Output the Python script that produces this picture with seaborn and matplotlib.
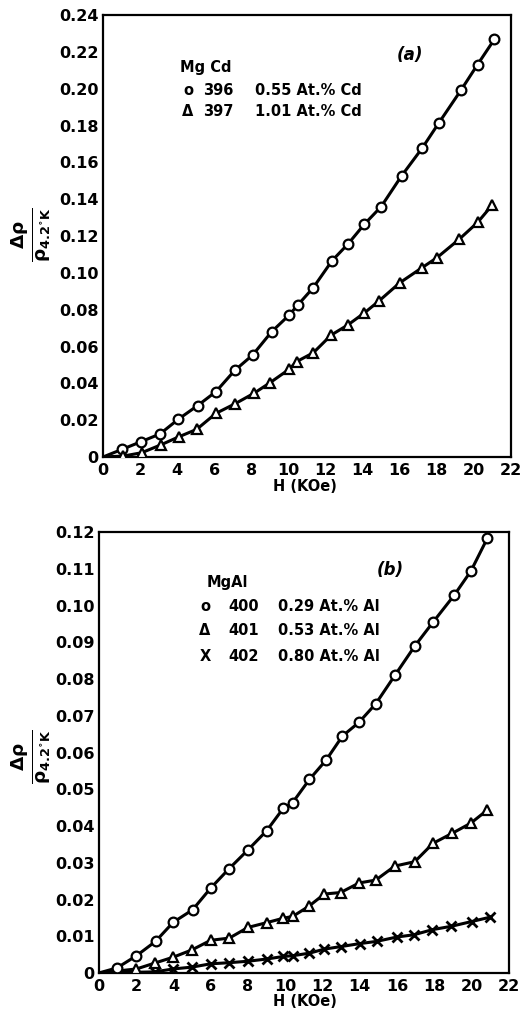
# Magnetoresistance of dilute Mg alloys: (a) MgCd, (b) MgAl
import numpy as np
import matplotlib
matplotlib.use('Agg')
import matplotlib.pyplot as plt
import seaborn as sns

sns.set_style('white')
plt.rcParams['font.family'] = ['DejaVu Sans']
plt.rcParams['font.weight'] = 'bold'
plt.rcParams['text.color'] = 'black'
plt.rcParams['xtick.color'] = 'black'
plt.rcParams['ytick.color'] = 'black'
plt.rcParams['axes.labelcolor'] = 'black'

# Panel (a): MgCd, sample 396 (0.55 At.% Cd)
H_396 = [1.04, 2.05, 3.07, 4.06, 5.1, 6.09, 7.1, 8.07, 9.09, 10.03, 10.5, 11.34,
         12.35, 13.22, 14.1, 15.0, 16.1, 17.2, 18.1, 19.3, 20.2, 21.1]
R_396 = [0.0042, 0.0083, 0.0125, 0.0205, 0.0279, 0.0355, 0.047, 0.0554, 0.068, 0.077,
         0.0825, 0.092, 0.1066, 0.1158, 0.1265, 0.136, 0.1527, 0.1676, 0.1813, 0.1992,
         0.2132, 0.2268]
# sample 397 (1.01 At.% Cd)
H_397 = [1.1, 2.08, 3.1, 4.1, 5.05, 6.09, 7.1, 8.14, 9.0, 10.03, 10.44, 11.34, 12.3,
         13.2, 14.1, 14.9, 16.0, 17.2, 18.0, 19.2, 20.2, 21.0]
R_397 = [0.0005, 0.0023, 0.0065, 0.011, 0.015, 0.0237, 0.0288, 0.0346, 0.0403, 0.0476,
         0.0518, 0.0566, 0.0662, 0.0717, 0.0783, 0.0849, 0.0946, 0.1028, 0.1082, 0.1182,
         0.1274, 0.137]

# Panel (b): MgAl, sample 400 (0.29 At.% Al)
H_400 = [0.98, 2.02, 3.04, 3.99, 5.03, 6.0, 6.97, 8.0, 9.0, 9.89, 10.4, 11.3, 12.2,
         13.07, 13.95, 14.86, 15.88, 16.95, 17.93, 19.06, 19.96, 20.85]
R_400 = [0.0014, 0.0047, 0.0086, 0.0138, 0.0172, 0.0231, 0.0283, 0.0335, 0.0387, 0.0448,
         0.0464, 0.0527, 0.058, 0.0645, 0.0682, 0.0733, 0.081, 0.089, 0.0955, 0.1028,
         0.1094, 0.1184]
# sample 401 (0.53 At.% Al)
H_401 = [2.02, 3.0, 3.99, 5.0, 6.0, 7.0, 8.0, 9.0, 9.89, 10.4, 11.25, 12.1, 12.97,
         13.96, 14.86, 15.88, 16.95, 17.93, 18.95, 19.96, 20.85]
R_401 = [0.0011, 0.0027, 0.0043, 0.0063, 0.0089, 0.0095, 0.0124, 0.0137, 0.0149, 0.0154,
         0.0181, 0.0215, 0.0219, 0.0245, 0.0253, 0.0291, 0.0303, 0.0353, 0.038, 0.0408,
         0.0444]
# sample 402 (0.80 At.% Al)
H_402 = [3.0, 3.99, 5.0, 6.0, 7.0, 8.0, 9.0, 9.9, 10.4, 11.3, 12.1, 13.0, 14.0, 14.9,
         16.0, 16.9, 17.9, 18.9, 20.0, 21.0]
R_402 = [0.0003, 0.0011, 0.0016, 0.0025, 0.0028, 0.0032, 0.0038, 0.0045, 0.0047, 0.0054,
         0.0065, 0.0072, 0.008, 0.0086, 0.0098, 0.0104, 0.0118, 0.0127, 0.014, 0.0152]

x_ticks = list(range(0, 23, 2))
y_ticks_a = [0, 0.02, 0.04, 0.06, 0.08, 0.10, 0.12, 0.14, 0.16, 0.18, 0.20, 0.22, 0.24]
y_labels_a = ['0', '0.02', '0.04', '0.06', '0.08', '0.10', '0.12', '0.14', '0.16',
              '0.18', '0.20', '0.22', '0.24']
y_ticks_b = [0, 0.01, 0.02, 0.03, 0.04, 0.05, 0.06, 0.07, 0.08, 0.09, 0.10, 0.11, 0.12]
y_labels_b = ['0', '0.01', '0.02', '0.03', '0.04', '0.05', '0.06', '0.07', '0.08',
              '0.09', '0.10', '0.11', '0.12']

fig = plt.figure(figsize=(5.23, 10.11), dpi=100)
ax_a = fig.add_axes([0.197, 0.548, 0.780, 0.437])
ax_b = fig.add_axes([0.189, 0.0376, 0.784, 0.436])

FS = 11.5


def draw_series(ax, H, R, marker, ms):
    # curve is drawn from the origin, markers sit on top with white faces
    xs = np.concatenate([[0.0], H])
    ys = np.concatenate([[0.0], R])
    sns.lineplot(x=xs, y=ys, ax=ax, color='black', lw=2.2, sort=False,
                 estimator=None, zorder=2)
    if marker == 'x':
        ax.plot(H, R, ls='none', marker='x', ms=ms, mew=2.0, color='black', zorder=3)
    else:
        ax.plot(H, R, ls='none', marker=marker, ms=ms, mew=1.6, mfc='white',
                mec='black', zorder=3)


def style_axes(ax, yticks, ylabels, ymax):
    ax.set_xlim(0, 22)
    ax.set_ylim(0, ymax)
    ax.set_xticks(x_ticks)
    ax.set_xticklabels([str(t) for t in x_ticks], fontsize=FS, fontweight='bold')
    ax.set_yticks(yticks)
    ax.set_yticklabels(ylabels, fontsize=FS, fontweight='bold')
    ax.tick_params(axis='both', direction='in', length=13, width=1.5, color='black',
                   labelcolor='black', pad=3)
    ax.tick_params(axis='x', pad=4)
    for sp in ax.spines.values():
        sp.set_visible(True)
        sp.set_color('black')
        sp.set_linewidth(1.6)
    ax.set_xlabel('')
    ax.set_ylabel('')


draw_series(ax_a, H_396, R_396, 'o', 7)
draw_series(ax_a, H_397, R_397, '^', 7)
style_axes(ax_a, y_ticks_a, y_labels_a, 0.24)

draw_series(ax_b, H_400, R_400, 'o', 7)
draw_series(ax_b, H_401, R_401, '^', 7)
draw_series(ax_b, H_402, R_402, 'x', 7)
style_axes(ax_b, y_ticks_b, y_labels_b, 0.12)

# legend blocks written as text, like the original figure
kw = dict(fontsize=10.5, fontweight='bold', va='center', color='black')
ax_a.text(0.189, 0.882, 'Mg Cd', transform=ax_a.transAxes, **kw)
ax_a.text(0.208, 0.830, 'o', transform=ax_a.transAxes, ha='center', **kw)
ax_a.text(0.245, 0.830, '396', transform=ax_a.transAxes, **kw)
ax_a.text(0.373, 0.830, '0.55 At.% Cd', transform=ax_a.transAxes, **kw)
ax_a.text(0.208, 0.781, 'Δ', transform=ax_a.transAxes, ha='center', **kw)
ax_a.text(0.245, 0.781, '397', transform=ax_a.transAxes, **kw)
ax_a.text(0.373, 0.781, '1.01 At.% Cd', transform=ax_a.transAxes, **kw)
ax_a.text(0.752, 0.909, '(a)', transform=ax_a.transAxes, ha='center', fontsize=12,
          style='italic', va='center', color='black')

ax_b.text(0.263, 0.887, 'MgAl', transform=ax_b.transAxes, **kw)
rows_b = [('o', '400', '0.29 At.% Al', 0.832),
          ('Δ', '401', '0.53 At.% Al', 0.776),
          ('X', '402', '0.80 At.% Al', 0.717)]
for sym, num, txt, yy in rows_b:
    ax_b.text(0.259, yy, sym, transform=ax_b.transAxes, ha='center', **kw)
    ax_b.text(0.315, yy, num, transform=ax_b.transAxes, **kw)
    ax_b.text(0.437, yy, txt, transform=ax_b.transAxes, **kw)
ax_b.text(0.71, 0.914, '(b)', transform=ax_b.transAxes, ha='center', fontsize=12,
          style='italic', va='center', color='black')

# axis titles
ylab = r'$\mathbf{\frac{\Delta\rho}{\rho_{4.2^{\circ}K}}}$'
fig.text(0.058, 1 - 235 / 1011, ylab, rotation=90, ha='center', va='center',
         fontsize=19, color='black')
fig.text(0.058, 1 - 757 / 1011, ylab, rotation=90, ha='center', va='center',
         fontsize=19, color='black')
fig.text(305 / 523, 1 - 487 / 1011, 'H (KOe)', ha='center', va='center', fontsize=10.5,
         fontweight='bold', color='black')
fig.text(305 / 523, 1 - 1002 / 1011, 'H (KOe)', ha='center', va='center', fontsize=10.5,
         fontweight='bold', color='black')

fig.savefig('out.png', dpi=100)
